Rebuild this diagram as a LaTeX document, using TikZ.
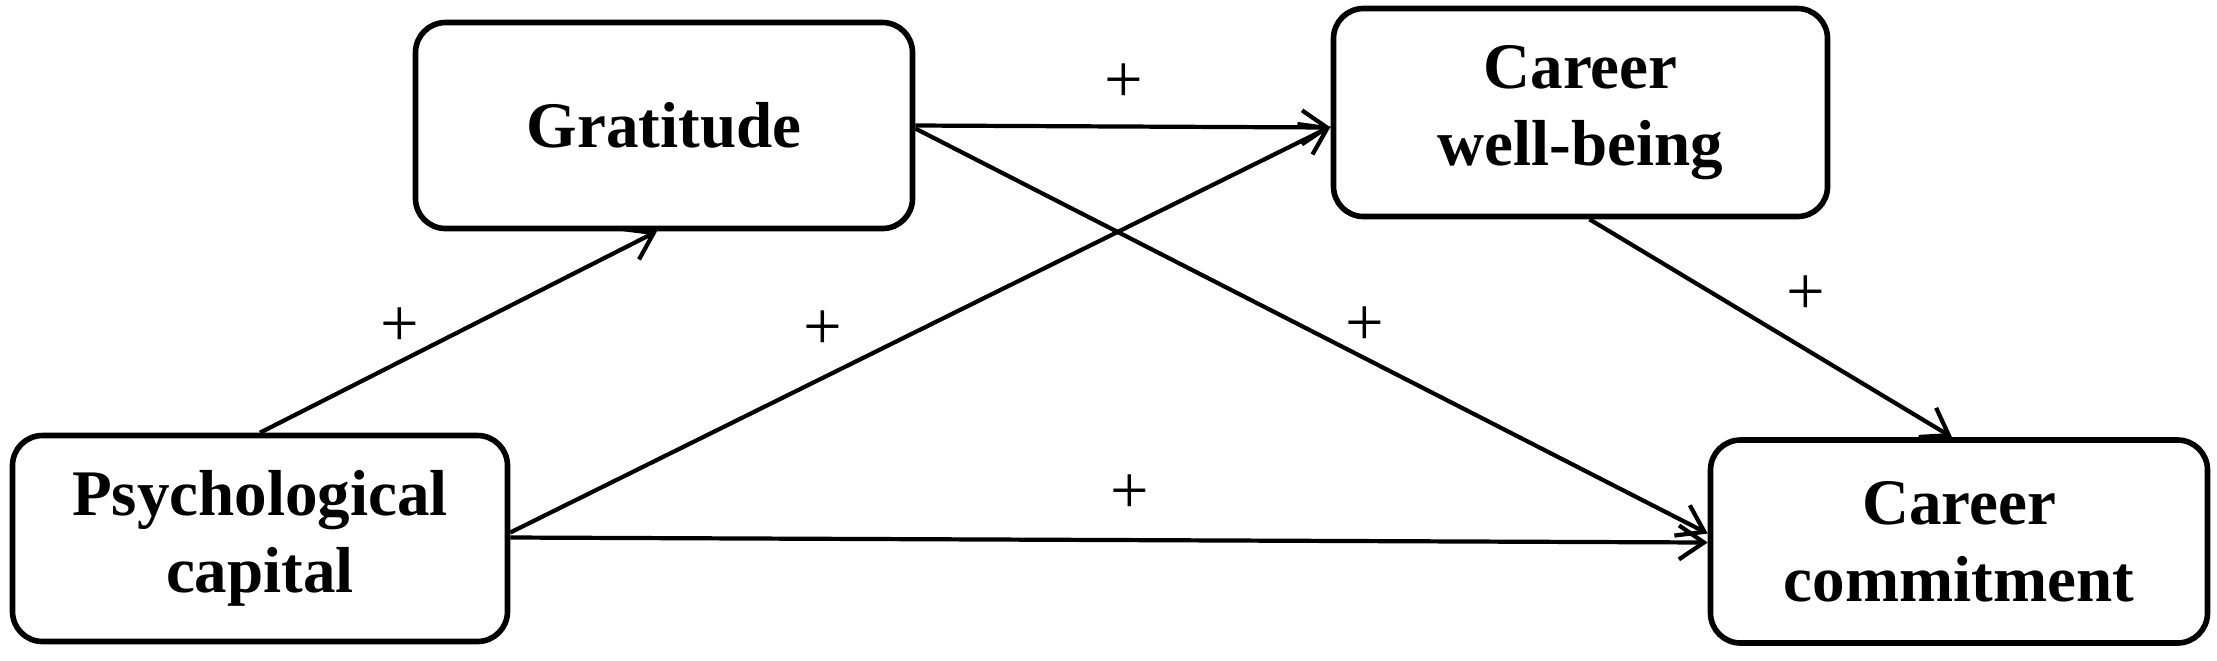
\documentclass[tikz,border=0pt]{standalone}
\usepackage{fontspec}
\setmainfont{Liberation Serif}
\usetikzlibrary{arrows.meta}
\tikzset{
  var/.style={draw, line width=1.6pt, rounded corners=0.3cm, align=center,
    font=\fontsize{18.5pt}{21.8pt}\selectfont\bfseries, inner sep=0pt},
  conn/.style={line width=1.2pt, -{Straight Barb[length=0.25cm, width=0.34cm, line width=1.2pt]}},
  sign/.style={font=\fontsize{19.5pt}{22pt}\selectfont, inner sep=0pt}
}
\begin{document}
\begin{tikzpicture}
\useasboundingbox[fill=white] (0,0) rectangle (22.17,-6.6);
\node[var, minimum width=4.97cm, minimum height=2.06cm] (g) at (6.64,-1.255) {Gratitude};
\node[var, minimum width=4.95cm, minimum height=2.06cm] (p) at (2.60,-5.385) {Psychological\\capital};
\node[var, minimum width=4.94cm, minimum height=2.08cm] (w) at (15.805,-1.125) {Career\\well-being};
\node[var, minimum width=4.97cm, minimum height=2.03cm] (c) at (19.59,-5.415) {Career\\commitment};

\draw[conn] (p.north) -- ([xshift=-0.07cm]g.south);
\draw[conn] ([yshift=0.06cm]p.east) -- ([yshift=-0.14cm]w.west);
\draw[conn] ([yshift=0.01cm]p.east) -- ([yshift=-0.01cm]c.west);
\draw[conn] (g.east) -- ([yshift=-0.15cm]w.west);
\draw[conn] ([yshift=-0.03cm]g.east) -- ([yshift=0.08cm]c.west);
\draw[conn] ([xshift=0.09cm]w.south) -- ([xshift=-0.07cm]c.north);

\node[sign] (s1) at (4.00,-3.27) {+};
\node[sign] (s2) at (8.23,-3.30) {+};
\node[sign] (s3) at (11.24,-0.83) {+};
\node[sign] (s4) at (13.65,-3.26) {+};
\node[sign] (s5) at (18.06,-2.95) {+};
\node[sign] (s6) at (11.30,-4.94) {+};
\end{tikzpicture}
\end{document}
